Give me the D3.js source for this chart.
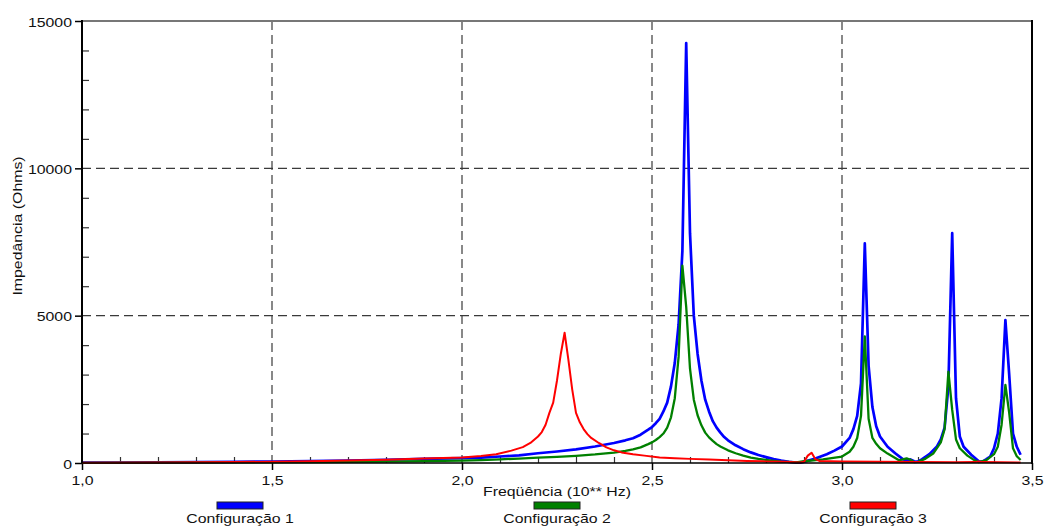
<!DOCTYPE html>
<html>
<head>
<meta charset="utf-8">
<script src="https://cdn.jsdelivr.net/npm/d3@7"></script>
<style>
  html, body { margin: 0; padding: 0; background: #fff; }
  svg { display: block; font-family: "Liberation Sans", Arial, Helvetica, sans-serif; }
</style>
</head>
<body>
<svg id="chart" width="1045" height="526"></svg>
<script>
// ---- Data ----
const seriesNames = ["Configuração 1", "Configuração 2", "Configuração 3"];
const seriesColors = ["#0000ff", "#008000", "#ff0000"];

const freq1 = [1.00,1.10,1.20,1.30,1.40,1.50,1.60,1.70,1.80,1.90,2.00,2.05,2.10,2.15,2.20,2.25,2.30,2.35,2.40,2.43,2.45,2.47,2.49,2.50,2.51,2.52,2.53,2.54,2.55,2.56,2.57,2.58,2.59,2.60,2.61,2.62,2.63,2.64,2.65,2.66,2.67,2.68,2.69,2.70,2.72,2.74,2.76,2.78,2.80,2.82,2.84,2.86,2.88,2.89,2.90,2.93,2.96,2.98,3.00,3.02,3.03,3.04,3.05,3.06,3.07,3.08,3.09,3.10,3.12,3.14,3.16,3.17,3.18,3.19,3.20,3.21,3.23,3.25,3.26,3.27,3.28,3.29,3.30,3.31,3.32,3.34,3.36,3.37,3.38,3.39,3.40,3.41,3.42,3.43,3.44,3.45,3.46,3.47];
const imp1  = [10,15,20,28,38,50,65,85,110,140,165,180,220,260,330,390,460,560,680,770,840,960,1130,1220,1350,1500,1750,2050,2600,3400,4700,7200,14250,7800,5000,3700,2800,2150,1750,1420,1200,1030,880,770,600,470,360,270,200,130,80,40,15,10,40,150,300,420,560,850,1150,1600,2700,7450,3300,1900,1250,900,550,330,130,90,120,60,50,120,300,560,800,1200,2600,7800,2200,900,550,280,60,50,130,220,500,1000,2200,4850,3000,1000,550,280];

const freq2 = [1.00,1.20,1.40,1.60,1.80,2.00,2.05,2.10,2.15,2.20,2.25,2.30,2.35,2.40,2.43,2.45,2.47,2.49,2.50,2.51,2.52,2.53,2.54,2.55,2.56,2.57,2.58,2.59,2.60,2.61,2.62,2.63,2.64,2.65,2.66,2.67,2.68,2.70,2.72,2.74,2.76,2.78,2.80,2.82,2.84,2.86,2.88,2.90,2.95,3.00,3.02,3.03,3.04,3.05,3.06,3.07,3.08,3.09,3.10,3.12,3.14,3.15,3.16,3.17,3.18,3.19,3.20,3.22,3.24,3.26,3.27,3.28,3.29,3.30,3.31,3.33,3.35,3.36,3.38,3.40,3.41,3.42,3.43,3.44,3.45,3.46,3.47];
const imp2  = [5,10,18,30,50,80,100,125,150,180,210,245,290,350,410,460,530,640,700,780,880,1000,1200,1550,2200,3600,6700,5300,3200,2150,1620,1280,1030,870,750,640,560,430,330,250,185,140,105,75,50,35,20,60,120,220,380,550,850,1600,4300,1500,850,650,500,320,170,90,120,160,110,30,40,150,320,700,1150,3100,1800,800,500,250,80,30,100,300,550,1300,2650,1700,500,230,100];

const freq3 = [1.00,1.20,1.40,1.60,1.80,1.90,2.00,2.05,2.09,2.13,2.16,2.18,2.20,2.21,2.22,2.23,2.24,2.25,2.26,2.27,2.28,2.29,2.30,2.31,2.32,2.33,2.34,2.36,2.38,2.40,2.42,2.45,2.48,2.52,2.56,2.60,2.65,2.70,2.75,2.80,2.85,2.89,2.90,2.91,2.92,2.93,2.94,3.00,3.10,3.20,3.30,3.35,3.36,3.37,3.47];
const imp3  = [5,15,30,60,110,150,190,240,300,420,540,680,900,1050,1300,1700,2050,2800,3700,4420,3500,2500,1700,1380,1150,980,850,680,530,430,360,300,250,190,160,140,115,90,70,55,40,20,40,250,350,130,70,50,40,30,25,30,50,30,20];

const xMajorTicks = [1.0, 1.5, 2.0, 2.5, 3.0, 3.5];
const xMinorTicks = [1.1,1.2,1.3,1.4,1.6,1.7,1.8,1.9,2.1,2.2,2.3,2.4,2.6,2.7,2.8,2.9,3.1,3.2,3.3,3.4];
const yMajorTicks = [0, 5000, 10000, 15000];
const yMinorTicks = [1000,2000,3000,4000,6000,7000,8000,9000,11000,12000,13000,14000];
const xGridTicks = [1.5, 2.0, 2.5, 3.0];
const yGridTicks = [5000, 10000];

const xTitle = "Freqüência (10** Hz)";
const yTitle = "Impedância (Ohms)";

// ---- Layout ----
const L = 82, R = 1032, T = 21, B = 463;
const SX = 1.22; // horizontal stretch of the reference font
const svg = d3.select("#chart");
const x = d3.scaleLinear().domain([1, 3.5]).range([L, R]);
const y = d3.scaleLinear().domain([0, 15000]).range([B, T]);
const fmt = d => d.toFixed(1).replace(".", ",");

// grid
const grid = svg.append("g").attr("stroke", "#3a3a3a").attr("stroke-width", 1.2).attr("stroke-dasharray", "9,5");
grid.selectAll(".vg").data(xGridTicks).join("line")
  .attr("x1", d => x(d)).attr("x2", d => x(d)).attr("y1", T).attr("y2", B);
grid.selectAll(".hg").data(yGridTicks).join("line")
  .attr("x1", L).attr("x2", R).attr("y1", d => y(d)).attr("y2", d => y(d));

// minor ticks (inward)
const gxMinor = svg.append("g").attr("transform", `translate(0,${B})`)
  .call(d3.axisBottom(x).tickValues(xMinorTicks).tickSize(-6).tickFormat(""));
const gyMinor = svg.append("g").attr("transform", `translate(${L},0)`)
  .call(d3.axisLeft(y).tickValues(yMinorTicks).tickSize(-7).tickFormat(""));
[gxMinor, gyMinor].forEach(g => {
  g.select(".domain").remove();
  g.selectAll("line").attr("stroke", "#333").attr("stroke-width", 1.2);
});

// major ticks (outward) with labels
const gx = svg.append("g").attr("transform", `translate(0,${B})`)
  .call(d3.axisBottom(x).tickValues(xMajorTicks).tickSize(7).tickFormat(fmt));
gx.select(".domain").remove();
gx.selectAll("line").attr("stroke", "#000").attr("stroke-width", 1.5);
gx.selectAll("text")
  .attr("y", null).attr("dy", null)
  .attr("transform", `translate(0,22) scale(${SX},1)`)
  .attr("font-size", 13).attr("fill", "#111");

const gy = svg.append("g").attr("transform", `translate(${L},0)`)
  .call(d3.axisLeft(y).tickValues(yMajorTicks).tickSize(7).tickFormat(d => String(d)));
gy.select(".domain").remove();
gy.selectAll("line").attr("stroke", "#000").attr("stroke-width", 1.5);
gy.selectAll("text")
  .attr("x", null).attr("dy", null)
  .attr("transform", `translate(-10,5) scale(${SX},1)`)
  .attr("font-size", 13).attr("fill", "#111");
gx.attr("font-family", null); gy.attr("font-family", null);

// frame
svg.append("line").attr("x1", L).attr("x2", R).attr("y1", T).attr("y2", T)
  .attr("stroke", "#777").attr("stroke-width", 2);
svg.append("line").attr("x1", R).attr("x2", R).attr("y1", T - 1).attr("y2", B + 1)
  .attr("stroke", "#000").attr("stroke-width", 2);

// series
const series = [
  { f: freq1, v: imp1, w: 2.7 },
  { f: freq2, v: imp2, w: 2.3 },
  { f: freq3, v: imp3, w: 2.0 }
];
const line = d3.line().x(d => x(d[0])).y(d => y(d[1]));
series.forEach((s, i) => {
  svg.append("path")
    .datum(s.f.map((f, k) => [f, s.v[k]]))
    .attr("fill", "none")
    .attr("stroke", seriesColors[i])
    .attr("stroke-width", s.w)
    .attr("stroke-linejoin", "round")
    .attr("d", line);
});

// axes lines on top
svg.append("line").attr("x1", L).attr("x2", R).attr("y1", B).attr("y2", B)
  .attr("stroke", "#000").attr("stroke-width", 2).attr("opacity", 0.75);
svg.append("line").attr("x1", L).attr("x2", L).attr("y1", T - 1).attr("y2", B)
  .attr("stroke", "#000").attr("stroke-width", 2);

// titles
svg.append("text").attr("transform", `translate(557,496) scale(${SX},1)`)
  .attr("text-anchor", "middle").attr("font-size", 13).attr("fill", "#111").text(xTitle);
svg.append("text").attr("transform", `translate(22,226) rotate(-90) scale(${SX},1)`)
  .attr("text-anchor", "middle").attr("font-size", 13).attr("fill", "#111").text(yTitle);

// legend
const legendX = [240, 557, 873];
const lg = svg.append("g");
seriesNames.forEach((name, i) => {
  lg.append("rect").attr("x", legendX[i] - 23).attr("y", 502).attr("width", 46).attr("height", 7)
    .attr("fill", seriesColors[i]).attr("stroke", "#222").attr("stroke-width", 1);
  lg.append("text").attr("transform", `translate(${legendX[i]},523) scale(${SX},1)`)
    .attr("text-anchor", "middle").attr("font-size", 13).attr("fill", "#111").text(name);
});
</script>
</body>
</html>
